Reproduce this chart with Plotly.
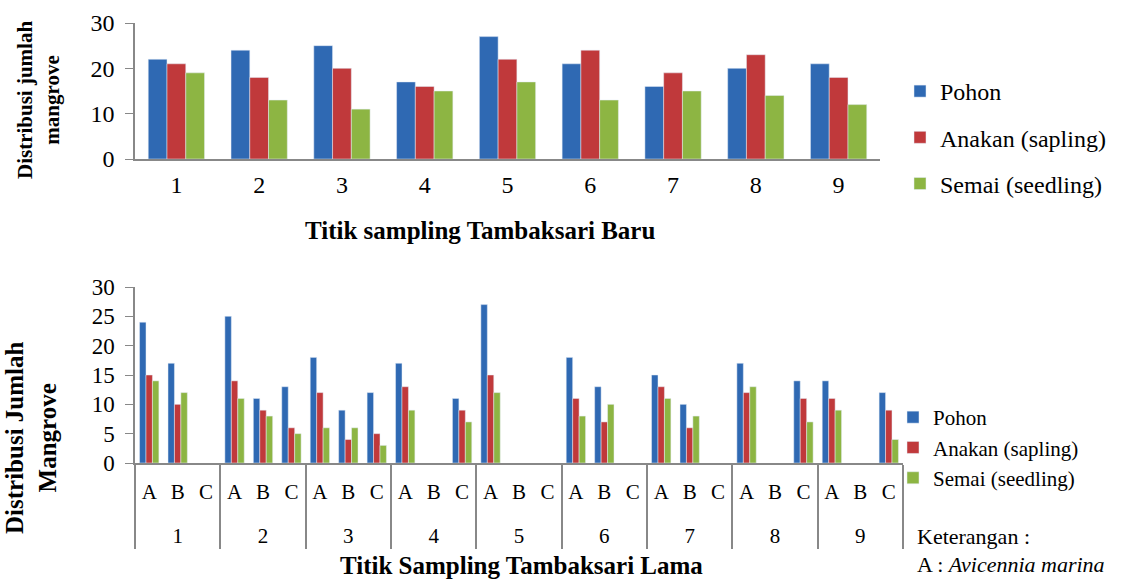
import plotly.graph_objects as go

# ---------------- data ----------------
top_categories = ["1", "2", "3", "4", "5", "6", "7", "8", "9"]
top_pohon = [22, 24, 25, 17, 27, 21, 16, 20, 21]
top_anakan = [21, 18, 20, 16, 22, 24, 19, 23, 18]
top_semai = [19, 13, 11, 15, 17, 13, 15, 14, 12]

bottom_groups = ["1", "2", "3", "4", "5", "6", "7", "8", "9"]
bottom_species = ["A", "B", "C"]
bottom_pohon = [24, 17, None, 25, 11, 13, 18, 9, 12, 17, None, 11, 27, None, None,
                18, 13, None, 15, 10, None, 17, None, 14, 14, None, 12]
bottom_anakan = [15, 10, None, 14, 9, 6, 12, 4, 5, 13, None, 9, 15, None, None,
                 11, 7, None, 13, 6, None, 12, None, 11, 11, None, 9]
bottom_semai = [14, 12, None, 11, 8, 5, 6, 6, 3, 9, None, 7, 12, None, None,
                8, 10, None, 11, 8, None, 13, None, 7, 9, None, 4]

series_names = ["Pohon", "Anakan (sapling)", "Semai (seedling)"]
colors = ["#2F69B3", "#C0393B", "#8DB543"]

W, H = 1131, 583
FAM = "Liberation Serif"
AXC = "#888888"


def px_x(p):
    return p / W


def px_y(p):
    return 1 - p / H


def f(size):
    return dict(family=FAM, size=size, color="black")


fig = go.Figure()

# top chart
for name, vals, col in zip(series_names, [top_pohon, top_anakan, top_semai], colors):
    fig.add_trace(go.Bar(x=top_categories, y=vals, name=name, marker_color=col,
                         xaxis="x", yaxis="y", legend="legend", legendgroup="t" + name))

# bottom chart (multicategory); outer labels get a leading line break so
# they sit lower, like the two-row table under the reference's axis
multi_x = [["<br>" + g for g in bottom_groups for _ in bottom_species],
           [s for _ in bottom_groups for s in bottom_species]]
for name, vals, col in zip(series_names, [bottom_pohon, bottom_anakan, bottom_semai], colors):
    fig.add_trace(go.Bar(x=multi_x, y=vals, name=name, marker_color=col,
                         xaxis="x2", yaxis="y2", legend="legend2", legendgroup="b" + name))

fig.update_layout(
    width=W, height=H,
    margin=dict(l=0, r=0, t=0, b=0, autoexpand=False),
    paper_bgcolor="white", plot_bgcolor="white",
    font=f(24),
    barmode="group",
    bargap=0.32, bargroupgap=0,
    showlegend=True,
    xaxis=dict(domain=[px_x(135), px_x(880)], anchor="y", type="category",
               showline=True, linecolor=AXC, linewidth=1.5, ticks="",
               showgrid=False, tickfont=f(24), ticklabelstandoff=3),
    yaxis=dict(domain=[px_y(159), px_y(23)], anchor="x", range=[0, 30], dtick=10,
               showline=True, linecolor=AXC, linewidth=1.5, ticks="outside",
               ticklen=8, tickcolor=AXC, showgrid=False, zeroline=False,
               tickfont=f(24), ticklabelstandoff=6),
    xaxis2=dict(domain=[px_x(135), px_x(903)], anchor="y2", type="multicategory",
                showline=True, linecolor=AXC, linewidth=1.5, ticks="",
                showgrid=False, tickfont=f(21), showdividers=True,
                dividercolor=AXC, dividerwidth=1.5, ticklabelstandoff=9),
    yaxis2=dict(domain=[px_y(463), px_y(287)], anchor="x2", range=[0, 30], dtick=5,
                showline=True, linecolor=AXC, linewidth=1.5, ticks="outside",
                ticklen=8, tickcolor=AXC, showgrid=False, zeroline=False,
                tickfont=f(23), ticklabelstandoff=6),
    legend=dict(x=px_x(900), y=px_y(69), xanchor="left", yanchor="top",
                font=f(24), traceorder="grouped", tracegroupgap=12,
                bgcolor="rgba(0,0,0,0)"),
    legend2=dict(x=px_x(893), y=px_y(397), xanchor="left", yanchor="top",
                 font=f(21), traceorder="grouped", tracegroupgap=0,
                 bgcolor="rgba(0,0,0,0)"),
)

annotations = [
    dict(text="<b>Distribusi jumlah<br>mangrove</b>", x=px_x(38), y=px_y(100),
         textangle=-90, font=f(21)),
    dict(text="<b>Titik sampling Tambaksari Baru</b>", x=px_x(480), y=px_y(230),
         font=f(25)),
    dict(text="<b>Distribusi Jumlah<br>Mangrove</b>", x=px_x(31), y=px_y(438),
         textangle=-90, font=f(25)),
    dict(text="<b>Titik Sampling Tambaksari Lama</b>", x=px_x(521), y=px_y(565),
         font=f(25)),
    dict(text="Keterangan :", x=px_x(915), y=px_y(536), xanchor="left",
         font=f(22)),
    dict(text="A : <i>Avicennia marina</i>", x=px_x(915), y=px_y(564), xanchor="left",
         font=f(22)),
]
for a in annotations:
    a.update(xref="paper", yref="paper", showarrow=False)
    a.setdefault("xanchor", "center")
    a["yanchor"] = "middle"
fig.update_layout(annotations=annotations)

fig.write_html("out.html")
